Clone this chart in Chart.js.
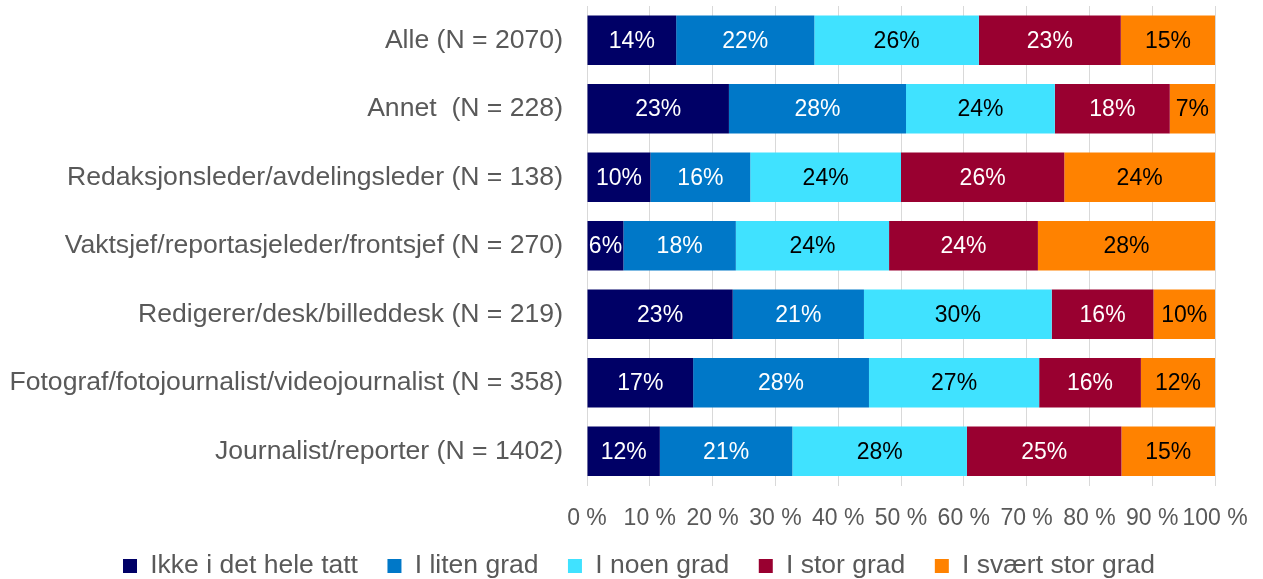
<!DOCTYPE html>
<html>
<head>
<meta charset="utf-8">
<script src="https://cdn.jsdelivr.net/npm/chart.js@4/dist/chart.umd.min.js"></script>
<style>
  html, body { margin: 0; padding: 0; background: #ffffff; }
  #wrap { position: relative; width: 1263px; height: 579px; }
</style>
</head>
<body>
<div id="wrap"><canvas id="c"></canvas></div>
<script>
const categories = [
  'Alle (N = 2070)',
  'Annet  (N = 228)',
  'Redaksjonsleder/avdelingsleder (N = 138)',
  'Vaktsjef/reportasjeleder/frontsjef (N = 270)',
  'Redigerer/desk/billeddesk (N = 219)',
  'Fotograf/fotojournalist/videojournalist (N = 358)',
  'Journalist/reporter (N = 1402)'
];
const seriesNames = ['Ikke i det hele tatt', 'I liten grad', 'I noen grad', 'I stor grad', 'I svært stor grad'];
const ikkeIDetHeleTatt = [14.2, 22.6, 10.1, 5.8, 23.2, 16.9, 11.6];
const iLitenGrad       = [22.0, 28.2, 15.9, 17.9, 20.9, 28.0, 21.1];
const iNoenGrad        = [26.2, 23.7, 24.0, 24.4, 29.9, 27.1, 27.8];
const iStorGrad        = [22.6, 18.3, 26.0, 23.7, 16.2, 16.2, 24.6];
const iSvaertStorGrad  = [15.0, 7.2, 24.0, 28.2, 9.8, 11.8, 14.9];
const xTickValues = [0, 10, 20, 30, 40, 50, 60, 70, 80, 90, 100];

const seriesData = [ikkeIDetHeleTatt, iLitenGrad, iNoenGrad, iStorGrad, iSvaertStorGrad];
const colors = ['#000066', '#0078C8', '#40E2FF', '#990030', '#FF8200'];
const labelColors = ['#ffffff', '#ffffff', '#000000', '#ffffff', '#000000'];

const FONT = '"Liberation Sans", Arial, sans-serif';
const GREY = '#595959';

const valueLabels = {
  id: 'valueLabels',
  afterDatasetsDraw(chart) {
    const ctx = chart.ctx;
    ctx.save();
    ctx.font = '23px ' + FONT;
    ctx.textAlign = 'center';
    ctx.textBaseline = 'middle';
    chart.data.datasets.forEach((ds, di) => {
      const meta = chart.getDatasetMeta(di);
      meta.data.forEach((bar, i) => {
        const v = ds.data[i];
        const cx = (bar.x + bar.base) / 2;
        ctx.fillStyle = labelColors[di];
        ctx.fillText(Math.round(v) + '%', cx, bar.y + 1);
      });
    });
    ctx.restore();
  }
};

new Chart(document.getElementById('c'), {
  type: 'bar',
  data: {
    labels: categories,
    datasets: seriesData.map((d, i) => ({
      label: seriesNames[i],
      data: d,
      backgroundColor: colors[i],
      borderWidth: 0,
      barPercentage: 0.72,
      categoryPercentage: 1.0
    }))
  },
  options: {
    indexAxis: 'y',
    responsive: true,
    maintainAspectRatio: false,
    animation: false,
    layout: { padding: { top: 6, right: 0, bottom: -10.25, left: 15 } },
    scales: {
      x: {
        stacked: true,
        min: 0,
        max: 100,
        afterBuildTicks(scale) { scale.ticks = xTickValues.map(v => ({ value: v })); },
        afterFit(scale) {
          scale.height = 37.75;
          scale.paddingLeft = 0; scale.paddingRight = 48;
          scale._computeLabelArea = () => undefined;
        },
        grid: { color: '#D9D9D9', lineWidth: 1, drawTicks: false },
        border: { display: false },
        ticks: {
          color: GREY,
          font: { family: FONT, size: 23 },
          padding: 19,
          maxRotation: 0,
          autoSkip: false,
          callback: v => v + ' %'
        }
      },
      y: {
        stacked: true,
        afterFit(scale) {
          scale.width = 572;
          scale.paddingTop = 0; scale.paddingBottom = 0;
          scale._computeLabelArea = () => undefined;
        },
        grid: { display: false, drawTicks: false },
        border: { display: false },
        ticks: {
          color: GREY,
          font: { family: FONT, size: 26.6 },
          padding: 24,
          autoSkip: false
        }
      }
    },
    plugins: {
      legend: {
        position: 'bottom',
        labels: {
          color: GREY,
          font: { family: FONT, size: 26.5 },
          boxWidth: 14,
          boxHeight: 14,
          padding: 29.5
        }
      },
      tooltip: { enabled: false }
    }
  },
  plugins: [valueLabels]
});
</script>
</body>
</html>
